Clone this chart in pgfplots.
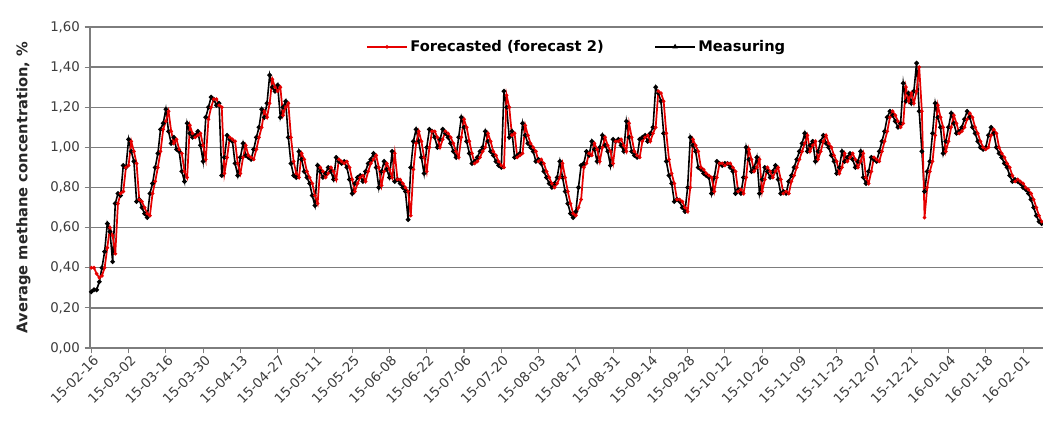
\documentclass[border=0pt]{standalone}
\usepackage{fontspec}
\setmainfont{DejaVu Sans}
\usepackage{pgfplots}
\usepackage{pgfplotstable}
\pgfplotsset{compat=1.18}
\definecolor{fcred}{RGB}{230,0,0}
\definecolor{gridgray}{RGB}{125,125,125}
\definecolor{labelgray}{RGB}{60,60,60}

% day index (0 = 15-02-16), measured and forecasted average methane concentration, %
\pgfplotstableread[row sep=\\]{
d M F\\
0 0.28 0.40\\ 1 0.29 0.40\\ 2 0.29 0.37\\ 3 0.33 0.35\\ 4 0.40 0.36\\ 5 0.48 0.40\\
6 0.62 0.50\\ 7 0.58 0.60\\ 8 0.43 0.56\\ 9 0.72 0.47\\ 10 0.77 0.72\\ 11 0.76 0.77\\
12 0.91 0.78\\ 13 0.90 0.90\\ 14 1.04 0.91\\ 15 0.98 1.03\\ 16 0.93 0.98\\ 17 0.73 0.92\\
18 0.74 0.74\\ 19 0.70 0.73\\ 20 0.67 0.70\\ 21 0.65 0.67\\ 22 0.77 0.66\\ 23 0.82 0.77\\
24 0.90 0.83\\ 25 0.97 0.90\\ 26 1.09 0.98\\ 27 1.12 1.09\\ 28 1.19 1.13\\ 29 1.08 1.18\\
30 1.02 1.08\\ 31 1.05 1.02\\ 32 0.99 1.04\\ 33 0.98 0.99\\ 34 0.88 0.97\\ 35 0.83 0.88\\
36 1.12 0.85\\ 37 1.07 1.11\\ 38 1.05 1.07\\ 39 1.06 1.05\\ 40 1.08 1.06\\ 41 1.01 1.07\\
42 0.93 1.01\\ 43 1.15 0.94\\ 44 1.20 1.14\\ 45 1.25 1.20\\ 46 1.24 1.24\\ 47 1.21 1.24\\
48 1.22 1.21\\ 49 0.86 1.20\\ 50 0.95 0.87\\ 51 1.06 0.95\\ 52 1.04 1.05\\ 53 1.03 1.04\\
54 0.92 1.03\\ 55 0.86 0.92\\ 56 0.95 0.87\\ 57 1.02 0.95\\ 58 0.96 1.01\\ 59 0.95 0.96\\
60 0.94 0.95\\ 61 0.99 0.94\\ 62 1.05 0.99\\ 63 1.10 1.05\\ 64 1.19 1.10\\ 65 1.15 1.18\\
66 1.22 1.15\\ 67 1.36 1.22\\ 68 1.30 1.34\\ 69 1.28 1.30\\ 70 1.31 1.28\\ 71 1.15 1.30\\
72 1.20 1.16\\ 73 1.23 1.20\\ 74 1.05 1.22\\ 75 0.92 1.05\\ 76 0.86 0.93\\ 77 0.85 0.87\\
78 0.98 0.85\\ 79 0.94 0.97\\ 80 0.88 0.94\\ 81 0.85 0.88\\ 82 0.82 0.85\\ 83 0.76 0.82\\
84 0.71 0.76\\ 85 0.91 0.72\\ 86 0.88 0.90\\ 87 0.85 0.88\\ 88 0.87 0.85\\ 89 0.90 0.87\\
90 0.88 0.90\\ 91 0.84 0.88\\ 92 0.95 0.84\\ 93 0.93 0.94\\ 94 0.92 0.93\\ 95 0.93 0.92\\
96 0.90 0.93\\ 97 0.84 0.90\\ 98 0.77 0.84\\ 99 0.82 0.78\\ 100 0.85 0.82\\ 101 0.86 0.85\\
102 0.83 0.86\\ 103 0.88 0.83\\ 104 0.92 0.88\\ 105 0.94 0.92\\ 106 0.97 0.94\\ 107 0.90 0.96\\
108 0.80 0.90\\ 109 0.88 0.81\\ 110 0.93 0.88\\ 111 0.89 0.92\\ 112 0.85 0.89\\ 113 0.98 0.85\\
114 0.83 0.97\\ 115 0.84 0.84\\ 116 0.82 0.84\\ 117 0.80 0.82\\ 118 0.78 0.80\\ 119 0.64 0.78\\
120 0.90 0.66\\ 121 1.03 0.89\\ 122 1.09 1.02\\ 123 1.03 1.08\\ 124 0.95 1.03\\ 125 0.87 0.95\\
126 1.00 0.88\\ 127 1.09 1.00\\ 128 1.08 1.08\\ 129 1.05 1.08\\ 130 1.00 1.05\\ 131 1.04 1.00\\
132 1.09 1.04\\ 133 1.07 1.08\\ 134 1.05 1.07\\ 135 1.02 1.05\\ 136 0.98 1.02\\ 137 0.95 0.98\\
138 1.05 0.95\\ 139 1.15 1.05\\ 140 1.10 1.14\\ 141 1.03 1.10\\ 142 0.97 1.03\\ 143 0.92 0.97\\
144 0.93 0.92\\ 145 0.95 0.93\\ 146 0.98 0.95\\ 147 1.00 0.98\\ 148 1.08 1.00\\ 149 1.03 1.07\\
150 0.98 1.03\\ 151 0.96 0.98\\ 152 0.93 0.96\\ 153 0.91 0.93\\ 154 0.90 0.91\\ 155 1.28 0.90\\
156 1.20 1.26\\ 157 1.05 1.20\\ 158 1.08 1.06\\ 159 0.95 1.07\\ 160 0.96 0.95\\ 161 0.97 0.96\\
162 1.12 0.97\\ 163 1.06 1.11\\ 164 1.02 1.06\\ 165 1.00 1.02\\ 166 0.98 1.00\\ 167 0.93 0.98\\
168 0.94 0.93\\ 169 0.92 0.94\\ 170 0.88 0.92\\ 171 0.85 0.88\\ 172 0.82 0.85\\ 173 0.80 0.82\\
174 0.82 0.80\\ 175 0.85 0.82\\ 176 0.93 0.85\\ 177 0.85 0.92\\ 178 0.78 0.85\\ 179 0.72 0.78\\
180 0.67 0.72\\ 181 0.65 0.67\\ 182 0.68 0.66\\ 183 0.80 0.70\\ 184 0.91 0.74\\ 185 0.92 0.90\\
186 0.98 0.92\\ 187 0.96 0.97\\ 188 1.03 0.96\\ 189 0.99 1.02\\ 190 0.93 0.99\\ 191 1.00 0.93\\
192 1.06 1.00\\ 193 1.01 1.05\\ 194 0.98 1.01\\ 195 0.91 0.98\\ 196 1.04 0.92\\ 197 1.03 1.03\\
198 1.04 1.03\\ 199 1.01 1.04\\ 200 0.98 1.01\\ 201 1.13 0.98\\ 202 1.05 1.12\\ 203 0.98 1.05\\
204 0.96 0.98\\ 205 0.95 0.96\\ 206 1.04 0.95\\ 207 1.05 1.03\\ 208 1.06 1.05\\ 209 1.03 1.06\\
210 1.07 1.03\\ 211 1.10 1.07\\ 212 1.30 1.10\\ 213 1.27 1.28\\ 214 1.23 1.27\\ 215 1.07 1.23\\
216 0.93 1.07\\ 217 0.86 0.94\\ 218 0.82 0.87\\ 219 0.73 0.82\\ 220 0.74 0.74\\ 221 0.73 0.74\\
222 0.70 0.73\\ 223 0.68 0.70\\ 224 0.80 0.68\\ 225 1.05 0.80\\ 226 1.01 1.04\\ 227 0.98 1.01\\
228 0.90 0.98\\ 229 0.89 0.90\\ 230 0.87 0.89\\ 231 0.86 0.87\\ 232 0.85 0.86\\ 233 0.77 0.85\\
234 0.85 0.78\\ 235 0.93 0.85\\ 236 0.92 0.92\\ 237 0.91 0.92\\ 238 0.92 0.91\\ 239 0.92 0.92\\
240 0.90 0.92\\ 241 0.88 0.90\\ 242 0.77 0.88\\ 243 0.79 0.78\\ 244 0.77 0.79\\ 245 0.85 0.77\\
246 1.00 0.85\\ 247 0.94 0.99\\ 248 0.88 0.94\\ 249 0.90 0.88\\ 250 0.95 0.90\\ 251 0.77 0.94\\
252 0.84 0.78\\ 253 0.90 0.84\\ 254 0.88 0.90\\ 255 0.85 0.88\\ 256 0.88 0.85\\ 257 0.91 0.88\\
258 0.84 0.90\\ 259 0.77 0.84\\ 260 0.78 0.77\\ 261 0.77 0.78\\ 262 0.83 0.77\\ 263 0.86 0.83\\
264 0.90 0.86\\ 265 0.94 0.90\\ 266 0.98 0.94\\ 267 1.02 0.98\\ 268 1.07 1.02\\ 269 0.98 1.06\\
270 1.01 0.98\\ 271 1.03 1.01\\ 272 0.93 1.03\\ 273 0.98 0.94\\ 274 1.03 0.98\\ 275 1.06 1.03\\
276 1.02 1.06\\ 277 1.00 1.02\\ 278 0.96 1.00\\ 279 0.93 0.96\\ 280 0.87 0.93\\ 281 0.90 0.87\\
282 0.98 0.90\\ 283 0.93 0.97\\ 284 0.95 0.93\\ 285 0.97 0.95\\ 286 0.94 0.97\\ 287 0.90 0.94\\
288 0.93 0.90\\ 289 0.98 0.93\\ 290 0.85 0.97\\ 291 0.82 0.85\\ 292 0.88 0.82\\ 293 0.95 0.88\\
294 0.94 0.95\\ 295 0.93 0.94\\ 296 0.98 0.93\\ 297 1.03 0.98\\ 298 1.08 1.03\\ 299 1.15 1.08\\
300 1.18 1.15\\ 301 1.16 1.18\\ 302 1.13 1.16\\ 303 1.10 1.13\\ 304 1.12 1.10\\ 305 1.32 1.12\\
306 1.23 1.30\\ 307 1.27 1.23\\ 308 1.22 1.27\\ 309 1.28 1.22\\ 310 1.42 1.28\\ 311 1.18 1.40\\
312 0.98 1.18\\ 313 0.78 0.65\\ 314 0.88 0.80\\ 315 0.93 0.88\\ 316 1.07 0.93\\ 317 1.22 1.06\\
318 1.15 1.21\\ 319 1.10 1.15\\ 320 0.97 1.10\\ 321 1.03 0.98\\ 322 1.10 1.03\\ 323 1.17 1.10\\
324 1.12 1.16\\ 325 1.07 1.12\\ 326 1.08 1.07\\ 327 1.10 1.08\\ 328 1.14 1.10\\ 329 1.18 1.14\\
330 1.15 1.17\\ 331 1.10 1.15\\ 332 1.07 1.10\\ 333 1.03 1.07\\ 334 1.00 1.03\\ 335 0.99 1.00\\
336 1.00 0.99\\ 337 1.06 1.00\\ 338 1.10 1.06\\ 339 1.07 1.09\\ 340 1.00 1.07\\ 341 0.97 1.00\\
342 0.95 0.97\\ 343 0.92 0.95\\ 344 0.90 0.92\\ 345 0.86 0.90\\ 346 0.83 0.86\\ 347 0.84 0.83\\
348 0.83 0.84\\ 349 0.82 0.83\\ 350 0.80 0.82\\ 351 0.79 0.80\\ 352 0.77 0.79\\ 353 0.74 0.77\\
354 0.70 0.74\\ 355 0.66 0.70\\ 356 0.63 0.66\\ 357 0.62 0.63\\ 358 0.62 0.62\\
}\methane

\begin{document}
\begin{tikzpicture}
\begin{axis}[
  at={(0pt,0pt)}, anchor=south west,
  scale only axis, width=714.75pt, height=240.75pt,
  xmin=-0.5, xmax=357.5, ymin=0, ymax=1.6,
  axis x line*=bottom, axis y line*=left,
  axis line style={gridgray, line width=1.2pt},
  ymajorgrids, major grid style={gridgray, line width=1.1pt},
  ytick={0,0.2,0.4,0.6,0.8,1.0,1.2,1.4,1.6},
  yticklabel style={/pgf/number format/fixed, /pgf/number format/fixed zerofill,
    /pgf/number format/precision=2, /pgf/number format/use comma,
    /pgf/number format/assume math mode=true,
    font=\fontsize{10}{12}\selectfont, text=labelgray},
  xtick={0,14,...,350},
  xticklabels={15-02-16,15-03-02,15-03-16,15-03-30,15-04-13,15-04-27,15-05-11,
    15-05-25,15-06-08,15-06-22,15-07-06,15-07-20,15-08-03,15-08-17,15-08-31,
    15-09-14,15-09-28,15-10-12,15-10-26,15-11-09,15-11-23,15-12-07,15-12-21,
    16-01-04,16-01-18,16-02-01},
  x tick label style={rotate=45, anchor=north east, font=\fontsize{10}{12}\selectfont,
    text=labelgray, inner sep=1pt, xshift=1pt},
  tick align=outside, major tick length=4pt,
  tick style={gridgray, line width=0.8pt},
  ylabel={\bfseries Average methane concentration, \%},
  ylabel shift=8pt,
  ylabel style={font=\fontsize{11}{13}\selectfont, text=black!85},
  legend style={at={(0.511,0.938)}, anchor=center, draw=none, fill=none,
    legend columns=2, font=\bfseries\fontsize{11}{13}\selectfont,
    /tikz/every even column/.append style={column sep=36pt}},
  legend image code/.code={\draw[mark repeat=2, mark phase=2, #1]
    plot coordinates {(0pt,0pt) (15pt,0pt) (30pt,0pt)};},
]
\addplot[black, line width=1.2pt, mark=*, mark size=1.1pt, forget plot]
  table[x=d, y=M] {\methane};
\addplot[fcred, line width=1.3pt, mark=*, mark size=0.6pt]
  table[x=d, y=F] {\methane};
\addlegendentry{Forecasted (forecast 2)}
\addlegendimage{black, line width=1.0pt, mark=triangle*, mark size=1.4pt}
\addlegendentry{Measuring}
\end{axis}
\pgfresetboundingbox
\path[use as bounding box] (-67.5pt,-57pt) rectangle (714.75pt,261pt);
\end{tikzpicture}
\end{document}
